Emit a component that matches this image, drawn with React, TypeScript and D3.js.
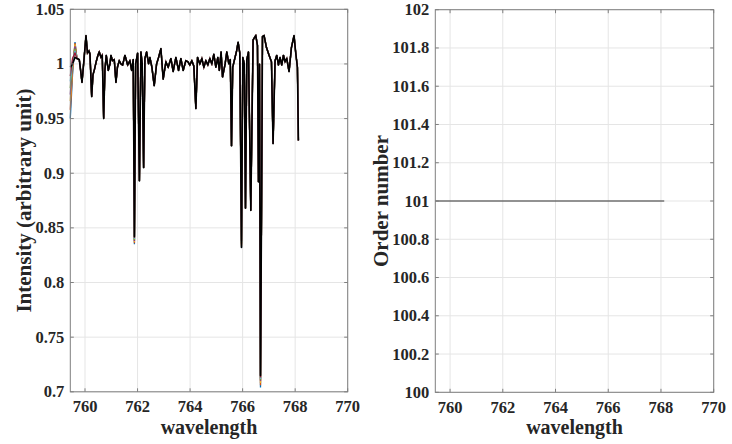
import React from "react";
import * as d3 from "d3";

// ---- data ----
const wavelength = [
  759.44, 759.524, 759.619, 759.695, 759.782, 759.828, 759.885, 759.961, 760.037, 760.094,
  760.151, 760.189, 760.254, 760.303, 760.36, 760.436, 760.493, 760.543, 760.607, 760.657,
  760.71, 760.759, 760.809, 760.885, 760.95, 760.988, 761.045, 761.113, 761.178, 761.235,
  761.303, 761.368, 761.432, 761.52, 761.623, 761.71, 761.775, 761.835, 761.881, 761.927,
  762.003, 762.071, 762.128, 762.178, 762.231, 762.28, 762.345, 762.421, 762.47, 762.546,
  762.634, 762.725, 762.801, 762.889, 762.976, 763.079, 763.166, 763.269, 763.356, 763.459,
  763.562, 763.649, 763.737, 763.839, 763.915, 763.991, 764.067, 764.143, 764.22, 764.284,
  764.372, 764.448, 764.524, 764.6, 764.676, 764.752, 764.828, 764.904, 764.98, 765.056,
  765.113, 765.181, 765.235, 765.334, 765.398, 765.474, 765.531, 765.577, 765.623, 765.702,
  765.771, 765.828, 765.892, 765.957, 766.007, 766.064, 766.109, 766.159, 766.223, 766.311,
  766.398, 766.501, 766.565, 766.604, 766.642, 766.68, 766.718, 766.756, 766.816, 766.908,
  767.007, 767.098, 767.159, 767.235, 767.299, 767.364, 767.425, 767.489, 767.554, 767.615,
  767.68, 767.767, 767.858, 767.957, 768.022, 768.086, 768.124,
];
const intensity = [
  0.997, 1.0, 1.006, 1.005, 1.004, 0.995, 0.983, 1.004, 1.026, 1.01,
  1.012, 1.009, 0.97, 0.99, 0.995, 1.003, 1.008, 1.011, 1.006, 1.008,
  0.95, 0.995, 1.008, 0.994, 1.0, 1.008, 1.003, 1.004, 0.983, 0.997,
  1.003, 1.0, 0.999, 1.008, 0.999, 1.003, 0.994, 1.004, 0.842, 1.0,
  1.01, 0.893, 1.011, 1.0, 0.905, 1.005, 1.011, 1.0, 1.006, 0.997,
  0.98, 1.0, 1.006, 1.014, 0.986, 1.002, 0.997, 1.005, 0.993, 1.006,
  0.994, 1.005, 0.994, 1.003, 1.002, 0.999, 1.003, 0.998, 0.959, 1.006,
  1.0, 1.005, 0.997, 1.003, 0.999, 1.005, 1.0, 1.009, 0.997, 1.006,
  0.994, 1.011, 0.988, 1.0, 1.011, 1.0, 1.004, 0.925, 0.997, 1.005,
  1.012, 1.02, 1.01, 0.832, 1.006, 1.0, 0.868, 1.004, 1.011, 0.866,
  1.022, 1.026, 1.017, 0.892, 1.0, 0.715, 0.857, 1.025, 1.026, 1.015,
  1.008, 1.002, 0.927, 1.003, 1.008, 0.999, 1.006, 0.999, 1.008, 1.002,
  1.005, 0.993, 1.015, 1.026, 1.01, 0.997, 0.93,
];
// other overlaid spectra differ mainly at the start and at the deepest lines
const seriesColors = ["#0072BD", "#D95319", "#EDB120", "#7E2F8E", "#77AC30", "#4DBEEE", "#A2142F"];
const seriesStart = [0.95, 0.958, 0.966, 0.972, 0.978, 0.984, 0.989];
const seriesSecond = [0.99, 0.993, 0.996, 0.999, 1.001, 1.003, 1.005];
const seriesPeak = [1.02, 1.019, 1.018, 1.016, 1.014, 1.012, 1.01];
const seriesDip762 = [0.835, 0.836, 0.837, 0.838, 0.839, 0.84, 0.841];
const seriesDip766a = [0.832, 0.833, 0.834, 0.835, 0.836, 0.837, 0.838];
const seriesDip7667 = [0.704, 0.706, 0.708, 0.71, 0.711, 0.712, 0.713];

const orderWavelength = [759.44, 768.124];
const orderNumber = [101, 101];

const leftYTicks = [0.7, 0.75, 0.8, 0.85, 0.9, 0.95, 1, 1.05];
const rightYTicks = [100, 100.2, 100.4, 100.6, 100.8, 101, 101.2, 101.4, 101.6, 101.8, 102];
const xTicks = [760, 762, 764, 766, 768, 770];

const FONT = "'Liberation Serif', 'Times New Roman', serif";
const AXIS = "#7f7f7f";
const TEXT = "#262626";
const GRID = "#e5e5e5";

function buildSeries(k: number): number[] {
  const v = intensity.slice();
  v[0] = seriesStart[k];
  v[1] = seriesSecond[k];
  v[2] = seriesPeak[k];
  v[38] = seriesDip762[k];
  v[93] = seriesDip766a[k];
  v[105] = seriesDip7667[k];
  return v;
}

type PanelProps = {
  left: number; right: number; top: number; bottom: number;
  yDomain: [number, number]; yTicks: number[]; yLabel: string;
  children: (x: d3.ScaleLinear<number, number>, y: d3.ScaleLinear<number, number>) => React.ReactNode;
  yLabelX: number;
};

function Panel(p: PanelProps) {
  const x = d3.scaleLinear().domain([759.44, 770]).range([p.left, p.right]);
  const y = d3.scaleLinear().domain(p.yDomain).range([p.bottom, p.top]);
  const fmt = d3.format("~g");
  const tl = 3.5;
  const midX = (p.left + p.right) / 2;
  const midY = (p.top + p.bottom) / 2;
  return (
    <g>
      {xTicks.map((t) => (
        <line key={"gx" + t} x1={x(t)} x2={x(t)} y1={p.top} y2={p.bottom} stroke={GRID} strokeWidth={1} />
      ))}
      {p.yTicks.map((t) => (
        <line key={"gy" + t} x1={p.left} x2={p.right} y1={y(t)} y2={y(t)} stroke={GRID} strokeWidth={1} />
      ))}
      {p.children(x, y)}
      <rect x={p.left} y={p.top} width={p.right - p.left} height={p.bottom - p.top} fill="none" stroke={AXIS} strokeWidth={1} />
      {xTicks.map((t) => (
        <g key={"tx" + t}>
          <line x1={x(t)} x2={x(t)} y1={p.bottom} y2={p.bottom - tl} stroke={AXIS} />
          <line x1={x(t)} x2={x(t)} y1={p.top} y2={p.top + tl} stroke={AXIS} />
          <text x={x(t)} y={p.bottom + 20.5} textAnchor="middle" fontFamily={FONT} fontWeight="bold" fontSize={16.5} fill={TEXT}>{t}</text>
        </g>
      ))}
      {p.yTicks.map((t) => (
        <g key={"ty" + t}>
          <line x1={p.left} x2={p.left + tl} y1={y(t)} y2={y(t)} stroke={AXIS} />
          <line x1={p.right} x2={p.right - tl} y1={y(t)} y2={y(t)} stroke={AXIS} />
          <text x={p.left - 6} y={y(t) + 5.5} textAnchor="end" fontFamily={FONT} fontWeight="bold" fontSize={16.5} fill={TEXT}>{fmt(t)}</text>
        </g>
      ))}
      <text x={midX} y={p.bottom + 42} textAnchor="middle" fontFamily={FONT} fontWeight="bold" fontSize={20} fill={TEXT}>wavelength</text>
      <text transform={`translate(${p.yLabelX},${midY}) rotate(-90)`} textAnchor="middle" fontFamily={FONT} fontWeight="bold" fontSize={21} fill={TEXT}>{p.yLabel}</text>
    </g>
  );
}

export default function App() {
  return (
    <svg width={732} height={444} style={{ display: "block", position: "absolute", left: 0, top: 0 }}>
      <rect width={732} height={444} fill="#ffffff" />
      <Panel left={70.3} right={347.7} top={9.3} bottom={391.8} yDomain={[0.7, 1.05]} yTicks={leftYTicks}
        yLabel="Intensity (arbitrary unit)" yLabelX={31}>
        {(x, y) => {
          const line = d3.line<number>().x((_, i) => x(wavelength[i])).y((d) => y(d));
          return (
            <g>
              {seriesColors.map((c, k) => (
                <path key={c} d={line(buildSeries(k)) || ""} fill="none" stroke={c} strokeWidth={1.3} />
              ))}
              <path d={line(intensity) || ""} fill="none" stroke="#000000" strokeWidth={1.6} strokeLinejoin="round" />
            </g>
          );
        }}
      </Panel>
      <Panel left={435.3} right={713.7} top={9.7} bottom={392.3} yDomain={[100, 102]} yTicks={rightYTicks}
        yLabel="Order number" yLabelX={388}>
        {(x, y) => {
          const line = d3.line<number>().x((_, i) => x(orderWavelength[i])).y((d) => y(d));
          return <path d={line(orderNumber) || ""} fill="none" stroke="#333333" strokeWidth={1.2} />;
        }}
      </Panel>
    </svg>
  );
}
